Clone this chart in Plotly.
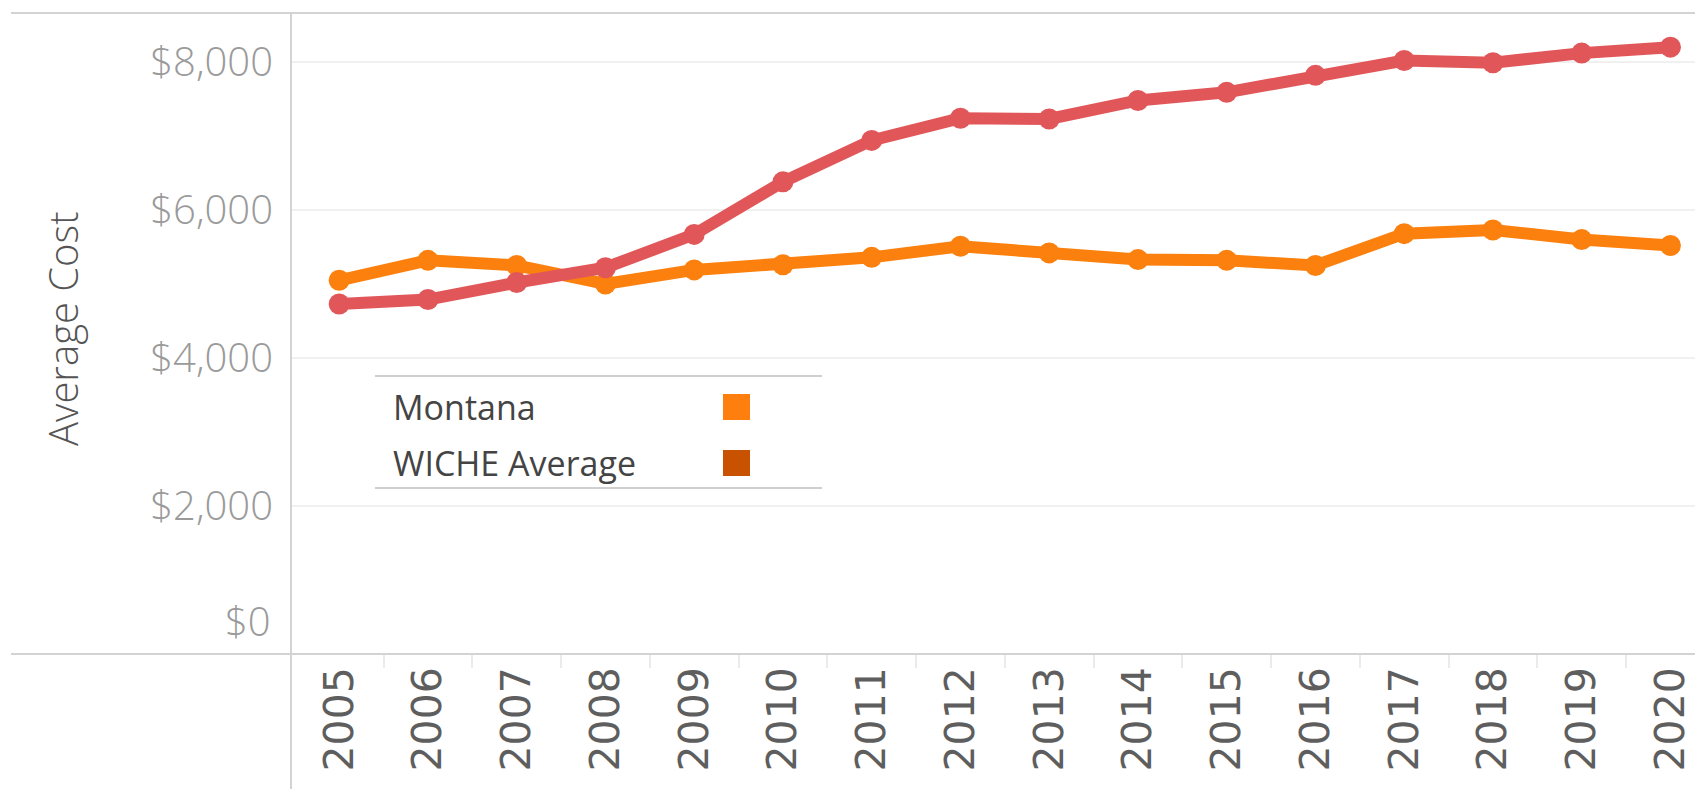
import plotly.graph_objects as go

# ---------------- data ----------------
years = list(range(2005, 2021))
montana = [5050, 5320, 5250, 5000, 5190, 5260, 5360, 5510, 5420, 5330, 5320, 5250, 5680, 5730, 5600, 5520]
wiche = [4730, 4790, 5020, 5220, 5670, 6380, 6940, 7240, 7230, 7480, 7590, 7820, 8020, 7990, 8120, 8200]
series_names = ["Montana", "WICHE Average"]
line_colors = ["#FB800E", "#E15759"]
legend_colors = ["#FF7F0E", "#C85200"]
y_tick_vals = [2000, 4000, 6000, 8000]
y_tick_text = ["$2,000", "$4,000", "$6,000", "$8,000"]
zero_label = "$0"
y_title = "Average Cost"

# ---------------- layout geometry ----------------
# screen positions are measured in the page; the page body adds an 8px offset
OFF = 8
W, H = 1703, 789
L, T = 291 - OFF, 13 - OFF
PLOT_BOTTOM = 654 - OFF
B = H - PLOT_BOTTOM
R = 0
PW, PH = W - L - R, PLOT_BOTTOM - T


def px(x):
    return (x - OFF - L) / PW


def py(y):
    return (PLOT_BOTTOM - (y - OFF)) / PH


fig = go.Figure()
for name, vals, col in zip(series_names, [montana, wiche], line_colors):
    fig.add_trace(go.Scatter(
        x=years, y=vals, name=name, mode="lines+markers",
        line=dict(color=col, width=12),
        marker=dict(color=col, size=21),
        showlegend=False,
    ))

grid_col = "#F0F0F0"
axis_col = "#D3D3D3"
ytick_font = dict(family="Open Sans", size=40, color="#9A9A9A", weight=300)

fig.update_layout(
    width=W, height=H,
    margin=dict(l=L, r=R, t=T, b=B, autoexpand=False),
    paper_bgcolor="white", plot_bgcolor="white",
    showlegend=False,
    xaxis=dict(
        range=[2004.457, 2020.457],
        tickvals=years, ticktext=[str(y) for y in years],
        tickangle=-90, ticks="", showgrid=False, zeroline=False,
        showline=False,
        tickfont=dict(family="DejaVu Sans", size=41, color="#5E5E5E"),
        ticklabelstandoff=4,
        minor=dict(tickvals=[y + 0.5 for y in years[:-1]], ticks="outside",
                   ticklen=13, tickwidth=2, tickcolor="#EBEBEB", showgrid=False),
    ),
    yaxis=dict(
        range=[0, 8662],
        tickvals=y_tick_vals, ticktext=y_tick_text,
        showgrid=True, gridcolor=grid_col, gridwidth=2,
        zeroline=False, showline=False, ticks="",
        tickfont=ytick_font,
        ticklabelstandoff=17,
    ),
)

shapes = []
shapes.append(dict(type="line", xref="paper", yref="paper", x0=px(11), x1=px(W + OFF), y0=py(13), y1=py(13),
                   line=dict(color=axis_col, width=2)))
shapes.append(dict(type="line", xref="paper", yref="paper", x0=px(11), x1=px(W + OFF), y0=py(654), y1=py(654),
                   line=dict(color=axis_col, width=2)))
shapes.append(dict(type="line", xref="paper", yref="paper", x0=px(291), x1=px(291), y0=py(13), y1=py(H + OFF),
                   line=dict(color=axis_col, width=2)))

annotations = []
annotations.append(dict(text=zero_label, xref="paper", yref="paper", x=px(273), y=py(620),
                        xanchor="right", yanchor="middle", showarrow=False, font=ytick_font))
annotations.append(dict(text=y_title, xref="paper", yref="paper", x=px(62), y=py(329), textangle=-90,
                        xanchor="center", yanchor="middle", showarrow=False,
                        font=dict(family="Open Sans", size=40, color="#555555", weight=300)))

# custom legend
leg_x0, leg_x1 = 375, 822
leg_top, leg_bot = 376, 488
shapes.append(dict(type="rect", xref="paper", yref="paper", x0=px(leg_x0), x1=px(leg_x1),
                   y0=py(leg_bot), y1=py(leg_top), fillcolor="white", line=dict(width=0), layer="below"))
for yy in (leg_top, leg_bot):
    shapes.append(dict(type="line", xref="paper", yref="paper", x0=px(leg_x0), x1=px(leg_x1),
                       y0=py(yy), y1=py(yy), line=dict(color="#CFCFCF", width=2)))
row_y = [407, 463]
for name, col, ry in zip(series_names, legend_colors, row_y):
    annotations.append(dict(text=name, xref="paper", yref="paper", x=px(391), y=py(ry),
                            xanchor="left", yanchor="middle", showarrow=False,
                            font=dict(family="Open Sans", size=34, color="#444444")))
    shapes.append(dict(type="rect", xref="paper", yref="paper", x0=px(723), x1=px(750),
                       y0=py(ry + 13), y1=py(ry - 13), fillcolor=col, line=dict(width=0)))

fig.update_layout(shapes=shapes, annotations=annotations)
fig.write_html("out.html")
